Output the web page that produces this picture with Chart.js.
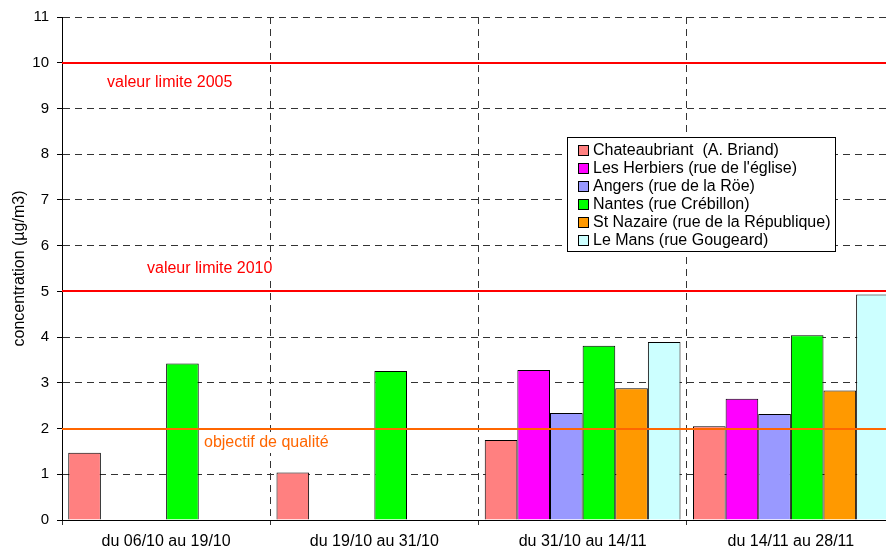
<!DOCTYPE html>
<html>
<head>
<meta charset="utf-8">
<script src="https://cdn.jsdelivr.net/npm/chart.js@4/dist/chart.umd.min.js"></script>
<style>
    html, body { margin: 0; padding: 0; background: #fff; overflow: hidden; }
    #wrap { width: 896px; height: 551px; position: relative; }
</style>
</head>
<body>
<div id="wrap"><canvas id="barCanvas"></canvas></div>
<script>
// périodes de mesure
var periodes = ["du 06/10 au 19/10", "du 19/10 au 31/10", "du 31/10 au 14/11", "du 14/11 au 28/11"];

// concentrations moyennes (µg/m3) par site
var chateaubriant = [1.47, 1.04, 1.75, 2.05];
var lesHerbiers   = [null, null, 3.28, 2.65];
var angers        = [null, null, 2.34, 2.32];
var nantes        = [3.42, 3.26, 3.81, 4.04];
var stNazaire     = [null, null, 2.88, 2.83];
var leMans        = [null, null, 3.89, 4.93];

var yTicks = [0, 1, 2, 3, 4, 5, 6, 7, 8, 9, 10, 11];

// seuils réglementaires
var seuils = [
    { valeur: 10, texte: "valeur limite 2005", couleur: "#ff0000" },
    { valeur: 5, texte: "valeur limite 2010", couleur: "#ff0000" },
    { valeur: 2, texte: "objectif de qualité", couleur: "#ff6600" }
];

var colors = {
    pink: '#ff8080',
    magenta: '#ff00ff',
    lavender: '#9999ff',
    green: '#00ff00',
    orange: '#ff9900',
    cyan: '#ccffff'
};

var FONT = "'Liberation Sans', Arial, sans-serif";
var DASH = [7, 5];

function serie(label, data, color) {
    return {
        label: label,
        data: data,
        backgroundColor: color,
        borderColor: '#000',
        borderWidth: 1,
        barPercentage: 1,
        categoryPercentage: 0.94
    };
}

// lignes de seuil + étiquettes (fond blanc), par-dessus les barres
var seuilPlugin = {
    id: 'seuils',
    afterDatasetsDraw: function (chart) {
        var ctx = chart.ctx;
        var area = chart.chartArea;
        var y = chart.scales.y;
        // décalages des étiquettes (px depuis le bord gauche / la ligne)
        var poses = [[45, 20], [85, -22], [142, 14]];
        ctx.save();
        ctx.font = '16px ' + FONT;
        ctx.textBaseline = 'middle';
        ctx.textAlign = 'left';
        seuils.forEach(function (s, i) {
            var py = Math.round(y.getPixelForValue(s.valeur));
            var tx = area.left + poses[i][0];
            var ty = py + poses[i][1];
            var tw = ctx.measureText(s.texte).width;
            ctx.fillStyle = '#fff';
            ctx.fillRect(tx - 4, ty - 9, tw + 8, 19);
        });
        seuils.forEach(function (s, i) {
            var py = Math.round(y.getPixelForValue(s.valeur));
            ctx.strokeStyle = s.couleur;
            ctx.lineWidth = 2;
            ctx.beginPath();
            ctx.moveTo(area.left, py);
            ctx.lineTo(area.right, py);
            ctx.stroke();
            ctx.fillStyle = s.couleur;
            ctx.fillText(s.texte, area.left + poses[i][0], py + poses[i][1]);
        });
        ctx.restore();
    }
};

// légende encadrée dans la zone du graphique
var legendePlugin = {
    id: 'legende',
    afterDraw: function (chart) {
        var ctx = chart.ctx;
        var x0 = 567, y0 = 137, w = 268, h = 114, pas = 18;
        ctx.save();
        ctx.fillStyle = '#fff';
        ctx.fillRect(x0, y0, w, h);
        ctx.strokeStyle = '#000';
        ctx.lineWidth = 1;
        ctx.strokeRect(x0 + 0.5, y0 + 0.5, w, h);
        ctx.font = '16px ' + FONT;
        ctx.textBaseline = 'middle';
        ctx.textAlign = 'left';
        chart.data.datasets.forEach(function (ds, i) {
            var cy = y0 + 13 + i * pas;
            ctx.fillStyle = ds.backgroundColor;
            ctx.fillRect(x0 + 11, cy - 5, 10, 10);
            ctx.strokeRect(x0 + 11.5, cy - 4.5, 10, 10);
            ctx.fillStyle = '#000';
            ctx.fillText(ds.label, x0 + 26, cy + 1);
        });
        ctx.restore();
    }
};

window.onload = function () {
    var ctx = document.getElementById("barCanvas").getContext("2d");
    window.myBar = new Chart(ctx, {
        type: 'bar',
        data: {
            labels: periodes,
            datasets: [
                serie('Chateaubriant  (A. Briand)', chateaubriant, colors.pink),
                serie("Les Herbiers (rue de l'église)", lesHerbiers, colors.magenta),
                serie('Angers (rue de la Röe)', angers, colors.lavender),
                serie('Nantes (rue Crébillon)', nantes, colors.green),
                serie('St Nazaire (rue de la République)', stNazaire, colors.orange),
                serie('Le Mans (rue Gougeard)', leMans, colors.cyan)
            ]
        },
        options: {
            responsive: true,
            maintainAspectRatio: false,
            animation: false,
            layout: { padding: { left: 0, right: 1, top: 17, bottom: 0 } },
            plugins: {
                legend: { display: false },
                tooltip: { enabled: false }
            },
            scales: {
                x: {
                    grid: {
                        offset: true,
                        color: '#333',
                        lineWidth: 1,
                        tickLength: 5,
                        tickColor: '#333',
                        tickBorderDash: DASH
                    },
                    border: { display: true, color: '#000', width: 1, dash: DASH },
                    ticks: {
                        color: '#000',
                        font: { family: FONT, size: 16 },
                        padding: 7,
                        maxRotation: 0
                    },
                    afterFit: function (s) { s.height = 31; }
                },
                y: {
                    min: 0,
                    max: 11,
                    afterBuildTicks: function (s) {
                        s.ticks = yTicks.map(function (v) { return { value: v }; });
                    },
                    grid: {
                        color: '#333',
                        lineWidth: 1,
                        tickLength: 5,
                        tickColor: '#000',
                        tickBorderDash: []
                    },
                    border: { display: true, color: '#000', width: 1, dash: DASH },
                    ticks: {
                        color: '#000',
                        font: { family: FONT, size: 15 },
                        padding: 8
                    },
                    title: {
                        display: true,
                        text: 'concentration (µg/m3)',
                        color: '#000',
                        font: { family: FONT, size: 16 },
                        padding: { top: 10, bottom: 0 }
                    },
                    afterFit: function (s) { s.width = 62; }
                }
            }
        },
        plugins: [seuilPlugin, legendePlugin]
    });
};
</script>
</body>
</html>
